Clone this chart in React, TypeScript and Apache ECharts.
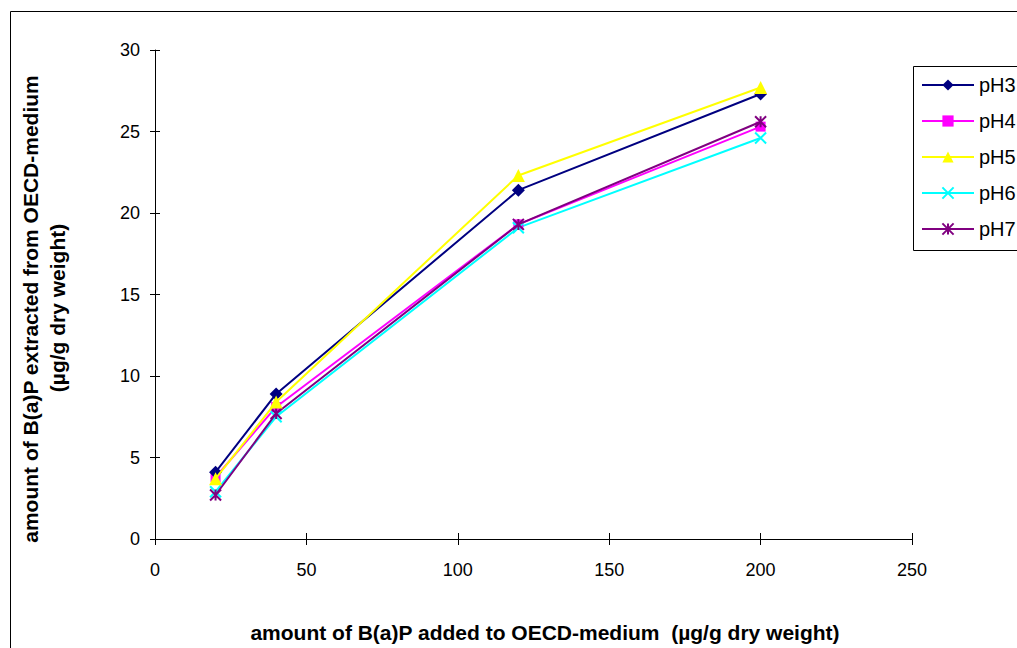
import React, { useEffect, useRef } from "react";
import * as echarts from "echarts";

const xValues = [20, 40, 120, 200];
const seriesNames = ["pH3", "pH4", "pH5", "pH6", "pH7"];
const pH3 = [4.1, 8.9, 21.4, 27.3];
const pH4 = [3.8, 8.1, 19.3, 25.3];
const pH5 = [3.7, 8.4, 22.3, 27.7];
const pH6 = [2.9, 7.5, 19.1, 24.6];
const pH7 = [2.7, 7.7, 19.3, 25.6];
const xTitle = "amount of B(a)P added to OECD-medium  (µg/g dry weight)";
const yTitle1 = "amount of B(a)P extracted from OECD-medium";
const yTitle2 = "(µg/g dry weight)";

const FONT = "'Liberation Sans', Arial, sans-serif";

export default function App() {
  const ref = useRef<HTMLDivElement>(null);
  useEffect(() => {
    if (!ref.current) return;
    const chart = echarts.init(ref.current, null, { renderer: "svg" });
    const pts = (vals: number[]) => xValues.map((x, i) => [x, vals[i]]);
    const mk = (
      name: string,
      vals: number[],
      color: string,
      symbol: string,
      size: number,
      stroke = false,
      z = 2
    ) => ({
      name,
      type: "line",
      data: pts(vals),
      symbol,
      symbolSize: size,
      showSymbol: true,
      z,
      lineStyle: { color, width: 2 },
      itemStyle: stroke
        ? { color, borderColor: color, borderWidth: 2 }
        : { color, borderWidth: 0 },
      emphasis: { disabled: true },
    });
    const axisCommon = {
      min: 0,
      axisLine: { show: true, lineStyle: { color: "#000", width: 1 } },
      splitLine: { show: false },
    };
    chart.setOption({
      animation: false,
      textStyle: { fontFamily: FONT },
      grid: { left: 155, right: 105, top: 50, bottom: 109, containLabel: false },
      xAxis: [
        {
          type: "value",
          ...axisCommon,
          max: 250,
          interval: 50,
          axisTick: { show: true, length: 6, lineStyle: { color: "#000" } },
          axisLabel: { fontSize: 18, color: "#000", margin: 22, fontFamily: FONT },
        },
        {
          type: "value",
          ...axisCommon,
          position: "bottom",
          max: 250,
          interval: 50,
          axisLine: { show: false },
          axisTick: { show: true, inside: true, length: 6, lineStyle: { color: "#000" } },
          axisLabel: { show: false },
        },
      ],
      yAxis: [
        {
          type: "value",
          ...axisCommon,
          max: 30,
          interval: 5,
          axisTick: { show: true, length: 5, lineStyle: { color: "#000" } },
          axisLabel: { fontSize: 18, color: "#000", margin: 15, fontFamily: FONT },
        },
        {
          type: "value",
          ...axisCommon,
          position: "left",
          max: 30,
          interval: 5,
          axisLine: { show: false },
          axisTick: { show: true, inside: true, length: 5, lineStyle: { color: "#000" } },
          axisLabel: { show: false },
        },
      ],
      legend: {
        data: seriesNames,
        orient: "vertical",
        left: 916,
        top: 70,
        itemWidth: 52,
        itemHeight: 14,
        itemGap: 16,
        textStyle: { fontSize: 20, color: "#000", fontFamily: FONT },
      },
      graphic: [
        {
          type: "rect",
          shape: { x: 10.5, y: 11.5, width: 1100, height: 700 },
          style: { fill: "none", stroke: "#000", lineWidth: 1 },
          silent: true,
          z: -10,
        },
        {
          type: "rect",
          shape: { x: 913.5, y: 66.5, width: 200, height: 184 },
          style: { fill: "#fff", stroke: "#000", lineWidth: 1 },
          silent: true,
          z: -5,
        },
        {
          type: "text",
          x: 545,
          y: 632,
          style: {
            text: xTitle,
            font: `bold 21px ${FONT}`,
            fill: "#000",
            align: "center",
            verticalAlign: "middle",
          },
        },
        {
          type: "text",
          x: 30,
          y: 309,
          rotation: Math.PI / 2,
          style: {
            text: yTitle1,
            font: `bold 21px ${FONT}`,
            fill: "#000",
            align: "center",
            verticalAlign: "middle",
          },
        },
        {
          type: "text",
          x: 57,
          y: 308,
          rotation: Math.PI / 2,
          style: {
            text: yTitle2,
            font: `bold 21px ${FONT}`,
            fill: "#000",
            align: "center",
            verticalAlign: "middle",
          },
        },
      ],
      series: [
        mk("pH3", pH3, "#000080", "diamond", 13, false, 3),
        mk("pH4", pH4, "#FF00FF", "rect", 10),
        mk("pH5", pH5, "#FFFF00", "triangle", 13, false, 4),
        mk("pH6", pH6, "#00FFFF", "path://M0,0L10,10M10,0L0,10", 11, true),
        mk("pH7", pH7, "#800080", "path://M0,0L10,10M10,0L0,10M5,0L5,10", 11, true, 3),
      ],
    });
    return () => chart.dispose();
  }, []);
  return (
    <div
      ref={ref}
      style={{ position: "fixed", left: 0, top: 0, width: 1017, height: 648, background: "#fff" }}
    />
  );
}
